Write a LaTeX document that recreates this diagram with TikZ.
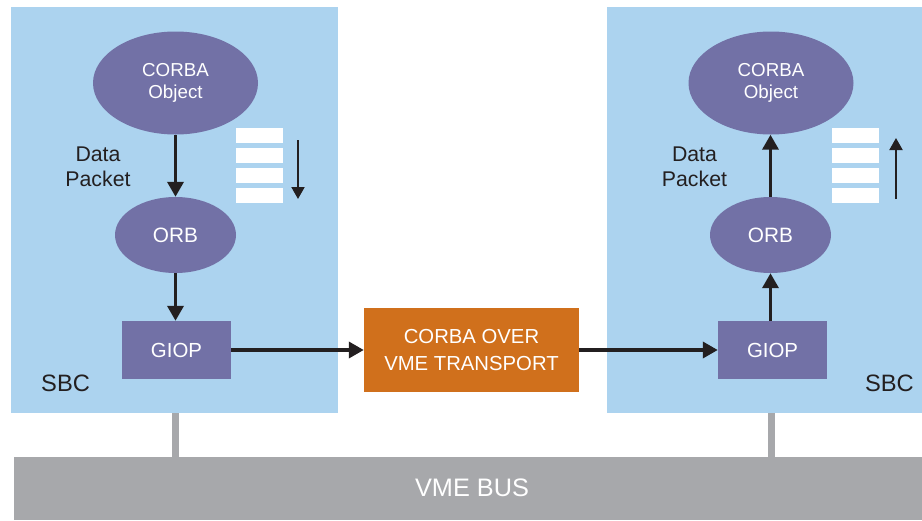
\documentclass[tikz,border=0pt]{standalone}
\usepackage{fontspec}
\setmainfont{Liberation Sans}
\usetikzlibrary{shapes.geometric,arrows.meta}

\definecolor{panelblue}{HTML}{ACD3EF}
\definecolor{corbapurple}{HTML}{7271A6}
\definecolor{transportorange}{HTML}{D0701C}
\definecolor{busgray}{HTML}{A7A8AB}
\definecolor{ink}{HTML}{231F20}

\newcommand{\fsz}[2]{\fontsize{#1}{#2}\selectfont}

\tikzset{
  panel/.style={fill=panelblue, draw=none, rectangle, inner sep=0pt},
  objell/.style={ellipse, fill=corbapurple, draw=none, text=white, inner sep=0pt,
    minimum width=165pt, minimum height=103pt, align=center, font=\fsz{18.75}{22.7}},
  orbell/.style={ellipse, fill=corbapurple, draw=none, text=white, inner sep=0pt,
    minimum width=121pt, minimum height=76pt, font=\fsz{20.8}{24}},
  giopbox/.style={rectangle, fill=corbapurple, draw=none, text=white, inner sep=0pt,
    minimum width=109pt, minimum height=58pt, font=\fsz{20.4}{24}},
  transport/.style={rectangle, fill=transportorange, draw=none, text=white, inner sep=0pt,
    minimum width=215pt, minimum height=84pt, align=center, font=\fsz{20.3}{26.7}},
  bus/.style={rectangle, fill=busgray, draw=none, text=white, inner sep=0pt,
    font=\fsz{25.3}{28}},
  packetbar/.style={rectangle, fill=white, draw=none, inner sep=0pt,
    minimum width=47pt, minimum height=15pt},
  label/.style={text=ink, inner sep=0pt, align=center},
  flow/.style={draw=ink, line width=3.5pt, -{Triangle[width=16pt,length=15pt]}},
  dirarrow/.style={draw=ink, line width=2pt, -{Triangle[width=13pt,length=12pt]}},
  stem/.style={draw=busgray, line width=7pt}
}

\begin{document}
\begin{tikzpicture}[x=1pt,y=-1pt]
  \useasboundingbox (0,0) rectangle (922,520);

  % boards and bus
  \node[panel, minimum width=327pt, minimum height=406pt] (sbcL) at (174.5,210) {};
  \node[panel, minimum width=315pt, minimum height=406pt] (sbcR) at (764.5,210) {};
  \node[bus, minimum width=908pt, minimum height=63pt] (bus) at (468,488.5) {};
  \node[text=white, inner sep=0pt, font=\fsz{25.3}{28}] (busname) at (472,488) {VME BUS};

  % left board stack
  \node[objell] (objL) at (175.5,83) {CORBA\\Object};
  \node[orbell] (orbL) at (175.5,235) {ORB};
  \node[giopbox] (giopL) at (176.5,350) {GIOP};
  \node[label, font=\fsz{21.3}{25}] (dataL) at (98,167) {Data\\Packet};
  \node[label, font=\fsz{23.7}{26}, anchor=base west] (sbcnameL) at (41,391.7) {SBC};

  % right board stack
  \node[objell] (objR) at (771,83) {CORBA\\Object};
  \node[orbell] (orbR) at (770.5,235) {ORB};
  \node[giopbox] (giopR) at (772.5,350) {GIOP};
  \node[label, font=\fsz{21.3}{25}] (dataR) at (694.5,167) {Data\\Packet};
  \node[label, font=\fsz{23.7}{26}, anchor=base east] (sbcnameR) at (914,391.7) {SBC};

  % transport in the middle
  \node[transport] (tr) at (471.5,350) {CORBA OVER\\VME TRANSPORT};

  % packet bars
  \foreach \i/\y in {1/135.5,2/155.5,3/175.5,4/195.5}{
    \node[packetbar] (barL\i) at (259.5,\y) {};
    \node[packetbar] (barR\i) at (855.5,\y) {};
  }

  % packet direction arrows
  \coordinate (dirLtop) at (298,140);
  \coordinate (dirLbot) at (298,199);
  \coordinate (dirRtop) at (896,138);
  \coordinate (dirRbot) at (896,199);
  \draw[dirarrow] (dirLtop) -- (dirLbot);
  \draw[dirarrow] (dirRbot) -- (dirRtop);

  % data flow
  \draw[flow] (objL) -- (orbL);
  \draw[flow] (orbL) -- (orbL |- giopL.north);
  \draw[flow] (giopL) -- (tr);
  \draw[flow] (tr) -- (giopR);
  \draw[flow] (giopR.north -| orbR) -- (orbR);
  \draw[flow] (orbR) -- (orbR |- objR.south);

  % board connections to the bus
  \draw[stem] (objL.south |- sbcL.south) -- (objL.south |- bus.north);
  \draw[stem] (objR.south |- sbcR.south) -- (objR.south |- bus.north);
\end{tikzpicture}
\end{document}
